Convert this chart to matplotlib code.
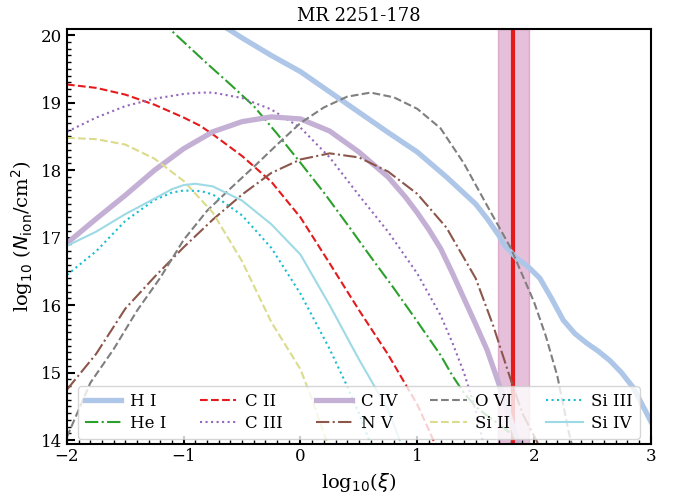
import numpy as np
import matplotlib.pyplot as plt
from matplotlib.ticker import MultipleLocator

plt.rcParams['font.family'] = 'DejaVu Serif'

# column densities
x_hi = [-0.7, -0.5, -0.25, 0, 0.25, 0.5, 0.75, 1.0, 1.25, 1.5, 1.6, 1.7, 1.75, 1.85, 1.95, 2.05, 2.15, 2.25, 2.35, 2.45, 2.55, 2.65, 2.75, 2.85, 2.95, 3.0]
y_hi = [20.18, 19.96, 19.70, 19.46, 19.16, 18.86, 18.56, 18.27, 17.90, 17.50, 17.28, 17.03, 16.88, 16.70, 16.57, 16.40, 16.10, 15.78, 15.58, 15.44, 15.32, 15.18, 15.00, 14.78, 14.45, 14.28]

x_hei = [-1.2, -1.0, -0.8, -0.6, -0.4, -0.2, 0, 0.2, 0.4, 0.6, 0.8, 1.0, 1.2, 1.3, 1.4, 1.5, 1.6, 1.7, 1.8, 1.9]
y_hei = [20.22, 19.90, 19.58, 19.27, 18.95, 18.54, 18.11, 17.67, 17.20, 16.72, 16.25, 15.76, 15.26, 14.96, 14.70, 14.50, 14.36, 14.24, 14.10, 13.90]

x_cii = [-2, -1.75, -1.5, -1.25, -1.0, -0.86, -0.75, -0.5, -0.25, 0, 0.25, 0.5, 0.75, 1.0, 1.1, 1.15]
y_cii = [19.27, 19.22, 19.12, 18.97, 18.78, 18.66, 18.53, 18.21, 17.83, 17.30, 16.62, 15.93, 15.27, 14.53, 14.15, 13.95]

x_ciii = [-2, -1.75, -1.5, -1.25, -1.0, -0.85, -0.75, -0.5, -0.25, 0, 0.25, 0.5, 0.75, 1.0, 1.2, 1.3, 1.4, 1.5, 1.56, 1.6]
y_ciii = [18.57, 18.78, 18.95, 19.06, 19.13, 19.15, 19.15, 19.07, 18.90, 18.63, 18.19, 17.63, 17.09, 16.47, 15.85, 15.45, 15.00, 14.45, 14.00, 13.70]

x_civ = [-2, -1.75, -1.5, -1.25, -1.0, -0.75, -0.5, -0.25, 0, 0.25, 0.5, 0.75, 0.9, 1.0, 1.1, 1.2, 1.3, 1.4, 1.5, 1.6, 1.7, 1.8, 1.88]
y_civ = [16.92, 17.28, 17.63, 18.00, 18.32, 18.57, 18.72, 18.79, 18.76, 18.58, 18.27, 17.90, 17.60, 17.37, 17.12, 16.84, 16.48, 16.10, 15.72, 15.33, 14.83, 14.30, 13.90]

x_nv = [-2, -1.75, -1.5, -1.25, -1.0, -0.75, -0.5, -0.25, 0, 0.25, 0.5, 0.75, 1.0, 1.25, 1.5, 1.65, 1.8, 1.9, 2.02, 2.1]
y_nv = [14.75, 15.28, 15.95, 16.42, 16.86, 17.27, 17.64, 17.96, 18.16, 18.25, 18.19, 17.98, 17.65, 17.15, 16.40, 15.70, 14.90, 14.40, 14.00, 13.70]

x_ovi = [-2, -1.8, -1.6, -1.4, -1.2, -1.0, -0.8, -0.6, -0.4, -0.2, 0, 0.2, 0.4, 0.6, 0.8, 1.0, 1.2, 1.4, 1.6, 1.8, 2.0, 2.1, 2.2, 2.3, 2.33]
y_ovi = [14.05, 14.85, 15.35, 15.92, 16.41, 16.97, 17.40, 17.73, 18.05, 18.38, 18.70, 18.93, 19.09, 19.15, 19.08, 18.91, 18.62, 18.10, 17.47, 16.85, 16.05, 15.55, 14.95, 14.10, 13.90]

x_sii = [-2, -1.75, -1.5, -1.25, -1.0, -0.75, -0.5, -0.25, 0, 0.1, 0.2, 0.25]
y_sii = [18.48, 18.46, 18.38, 18.17, 17.84, 17.37, 16.65, 15.75, 15.05, 14.60, 14.10, 13.85]

x_siiii = [-2, -1.75, -1.5, -1.25, -1.1, -1.0, -0.85, -0.75, -0.5, -0.25, 0, 0.25, 0.4, 0.5, 0.6]
y_siiii = [16.45, 16.80, 17.25, 17.56, 17.67, 17.70, 17.69, 17.64, 17.33, 16.85, 16.17, 15.35, 14.80, 14.40, 13.95]

x_siiv = [-2, -1.75, -1.5, -1.25, -1.1, -1.0, -0.9, -0.75, -0.5, -0.25, 0, 0.25, 0.5, 0.75, 0.85]
y_siiv = [16.88, 17.09, 17.35, 17.58, 17.72, 17.78, 17.80, 17.76, 17.55, 17.20, 16.75, 16.00, 15.20, 14.45, 14.00]

xi_best = 1.82
xi_lo, xi_hi = 1.69, 1.955

fig = plt.figure(figsize=(6.8, 4.94), dpi=100)
ax = fig.add_axes([0.0985, 0.102, 0.8585, 0.839])

ax.axvspan(xi_lo, xi_hi, color=(193/255, 98/255, 163/255), alpha=0.4, lw=1)
ax.axvline(xi_best, color='#e41a1c', lw=3)

ax.plot(x_hi, y_hi, color='#aec7e8', lw=3.8, label='H I')
ax.plot(x_hei, y_hei, color='#2ca02c', lw=1.5, ls='-.', label='He I')
ax.plot(x_cii, y_cii, color='#e41a1c', lw=1.5, ls='--', label='C II')
ax.plot(x_ciii, y_ciii, color='#9467bd', lw=1.5, ls=':', label='C III')
ax.plot(x_civ, y_civ, color='#c5b0d5', lw=3.8, label='C IV')
ax.plot(x_nv, y_nv, color='#8c564b', lw=1.5, ls='-.', label='N V')
ax.plot(x_ovi, y_ovi, color='#7f7f7f', lw=1.5, ls='--', label='O VI')
ax.plot(x_sii, y_sii, color='#dbdb8d', lw=1.5, ls='--', label='Si II')
ax.plot(x_siiii, y_siiii, color='#17becf', lw=1.5, ls=':', label='Si III')
ax.plot(x_siiv, y_siiv, color='#9edae5', lw=1.5, label='Si IV')

ax.set_xlim(-2, 3)
ax.set_ylim(13.95, 20.09)
ax.xaxis.set_major_locator(MultipleLocator(1))
ax.xaxis.set_minor_locator(MultipleLocator(0.1))
ax.yaxis.set_major_locator(MultipleLocator(1))
ax.yaxis.set_minor_locator(MultipleLocator(0.1))
ax.tick_params(which='both', direction='in', top=False, right=False, labelsize=12)
ax.tick_params(which='major', length=6, width=1.5)
ax.tick_params(which='minor', length=3, width=1)
for s in ax.spines.values():
    s.set_linewidth(1.5)

ax.set_xlabel(r'log$_{10}$($\xi$)', fontsize=14)
ax.set_ylabel(r'log$_{10}$ ($N_{\rm ion}$/cm$^2$)', fontsize=14)
ax.set_title('MR 2251-178', fontsize=13)
ax.legend(loc='lower center', ncol=5, fontsize=12, borderaxespad=0.3,
          handlelength=2.2, handletextpad=0.5, columnspacing=2.0, labelspacing=0.3)

fig.savefig('out.png', dpi=100)
